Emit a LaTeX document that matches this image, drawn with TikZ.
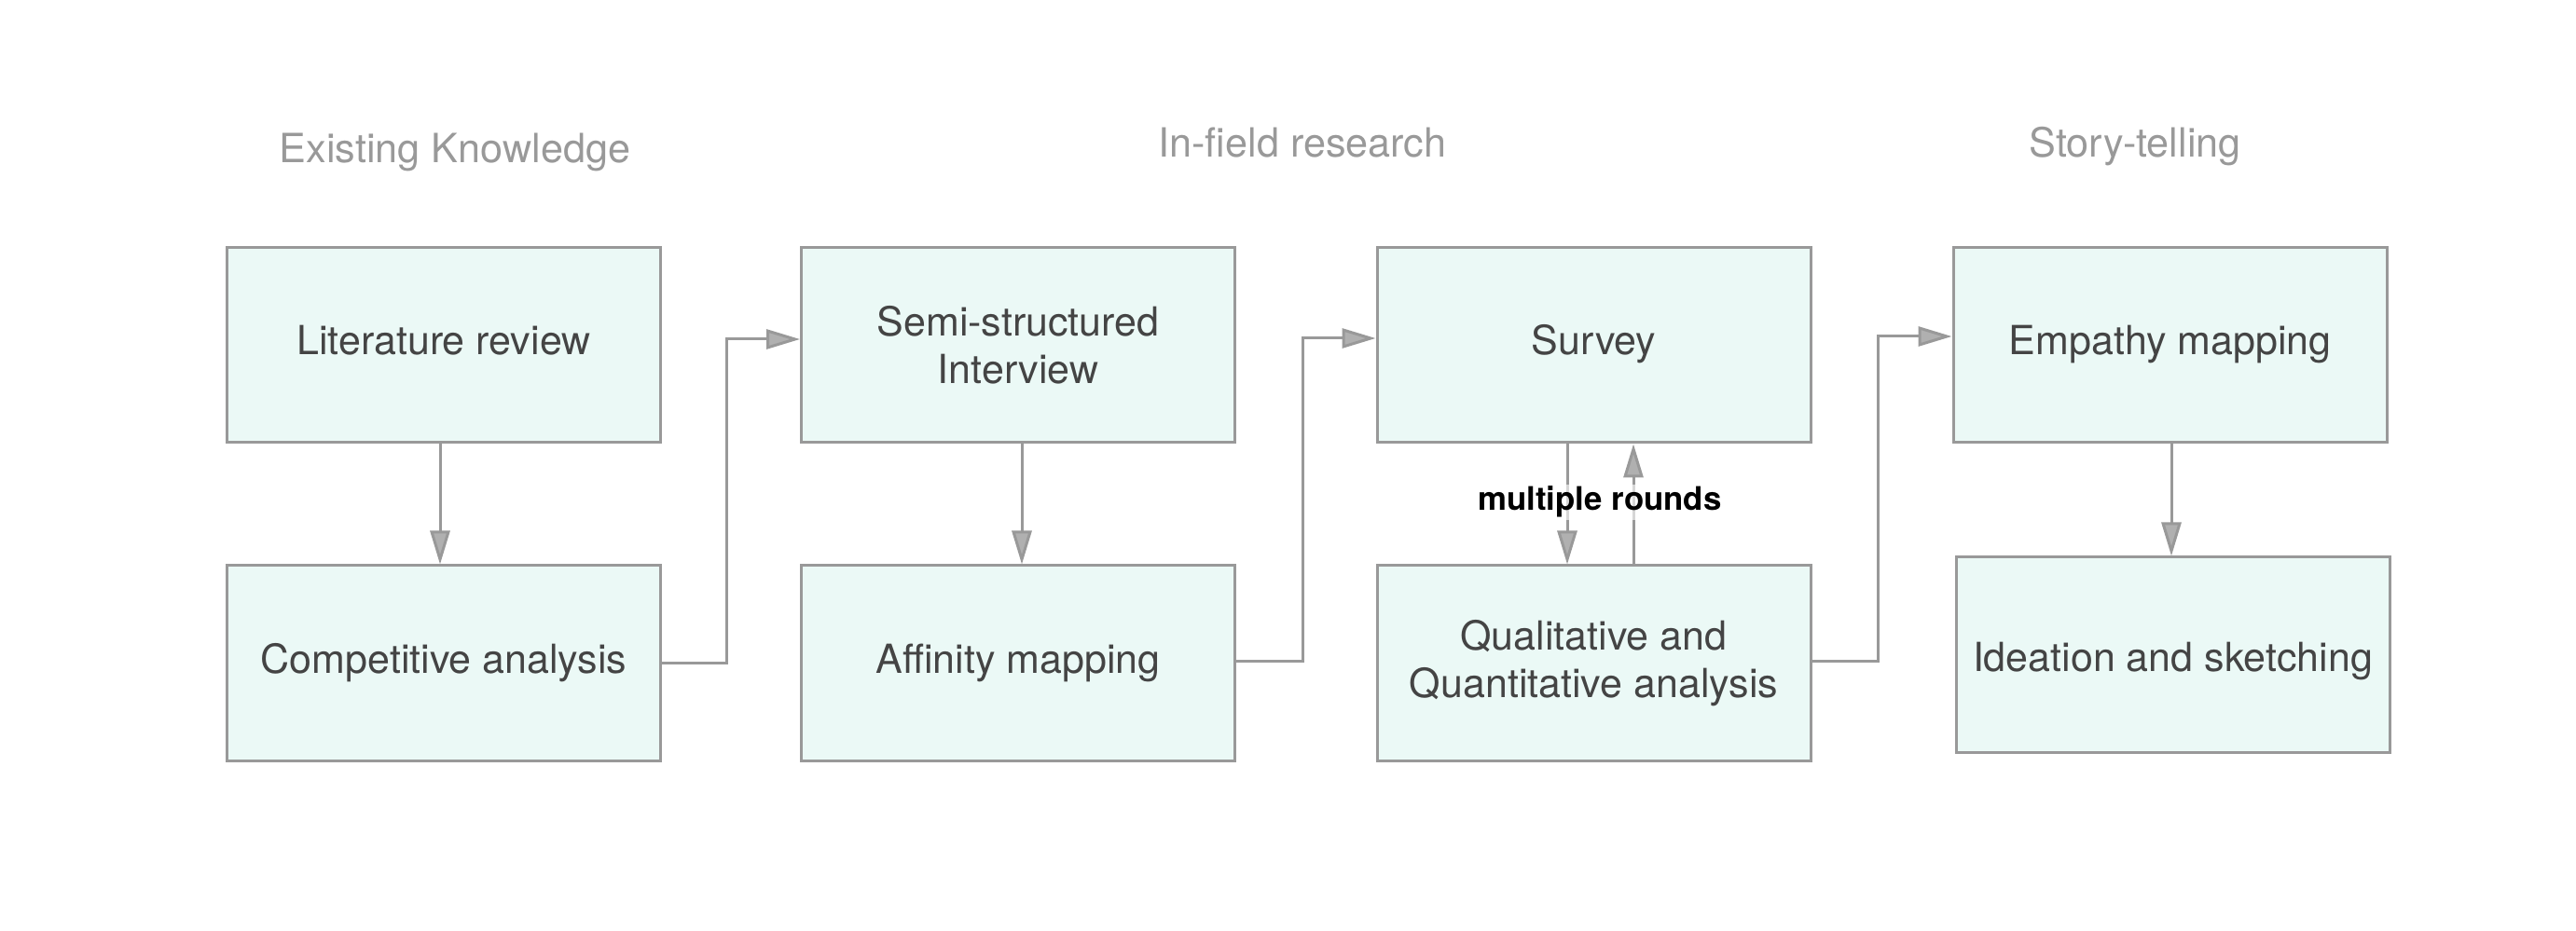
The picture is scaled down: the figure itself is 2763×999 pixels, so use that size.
\documentclass[tikz,border=0pt]{standalone}
\usepackage{fontspec}
\setmainfont{TeX Gyre Heros}
\usetikzlibrary{arrows.meta,calc}
\definecolor{boxfill}{HTML}{EBF9F6}
\definecolor{boxline}{HTML}{999999}
\definecolor{boxtext}{HTML}{444444}
\definecolor{titlegray}{HTML}{999999}
\definecolor{tipfill}{HTML}{B0B0B0}
\begin{document}
\begin{tikzpicture}[x=0.5pt,y=-0.5pt,
  stepbox/.style={draw=boxline, fill=boxfill, line width=1.5pt,
    minimum width=232.5pt, minimum height=104.5pt, inner sep=0pt,
    align=center, text=boxtext, font=\fontsize{21.5pt}{25.5pt}\selectfont},
  oneline/.style={text height=15pt, text depth=4.5pt},
  titletext/.style={text=titlegray, font=\fontsize{21.6pt}{25pt}\selectfont,
    anchor=base, inner sep=0pt},
  arr/.style={draw=boxline, line width=1.5pt,
    -{Triangle[length=18pt,width=10.5pt,fill=tipfill]}},
  lbl/.style={font=\fontsize{17.4pt}{20pt}\selectfont\bfseries, text=black,
    fill=white, fill opacity=0.6, text opacity=1, inner sep=1pt, anchor=base},
]
\useasboundingbox (0,0) rectangle (2763,999);

% titles
\node[titletext] (t1) at (488,175) {Existing Knowledge};
\node[titletext] (t2) at (1397,169) {In-field research};
\node[titletext] (t3) at (2290,169) {Story-telling};

% boxes
\node[stepbox,oneline] (B1) at (476,370.5) {Literature review};
\node[stepbox,oneline] (B2) at (476,711.5) {Competitive analysis};
\node[stepbox] (B3) at (1092,370.5) {Semi-structured\\Interview};
\node[stepbox,oneline] (B4) at (1092,711.5) {Affinity mapping};
\node[stepbox,oneline] (B5) at (1709.5,370.5) {Survey};
\node[stepbox] (B6) at (1709.5,711.5) {Qualitative and\\Quantitative analysis};
\node[stepbox,oneline] (B7) at (2327.5,370.5) {Empathy mapping};
\node[stepbox,text height=20pt,text depth=2pt] (B8) at (2330.5,702.5) {Ideation and sketching};

% bend coordinates
\coordinate (c1) at (779,364);
\coordinate (c2) at (1397,363);
\coordinate (c3) at (2014,361);

% connectors
\draw[arr] ([xshift=-2pt]B1.south) -- ([xshift=-2pt]B2.north);
\draw[arr] ([xshift=2pt]B3.south) -- ([xshift=2pt]B4.north);
\draw[arr] ([xshift=0.75pt]B7.south) -- ([xshift=-0.75pt]B8.north);
\draw[arr] (B2.east) -| (c1) -- (B3.west |- c1);
\draw[arr] ([yshift=1.25pt]B4.east) -| (c2) -- (B5.west |- c2);
\draw[arr] ([yshift=1.25pt]B6.east) -| (c3) -- (B7.west |- c3);
\draw[arr] ([xshift=-14.25pt]B5.south) -- ([xshift=-14.25pt]B6.north);
\draw[arr] ([xshift=21.25pt]B6.north) -- ([xshift=21.25pt]B5.south);

% label
\node[lbl] (L) at (1716,548) {multiple rounds};
\end{tikzpicture}
\end{document}
